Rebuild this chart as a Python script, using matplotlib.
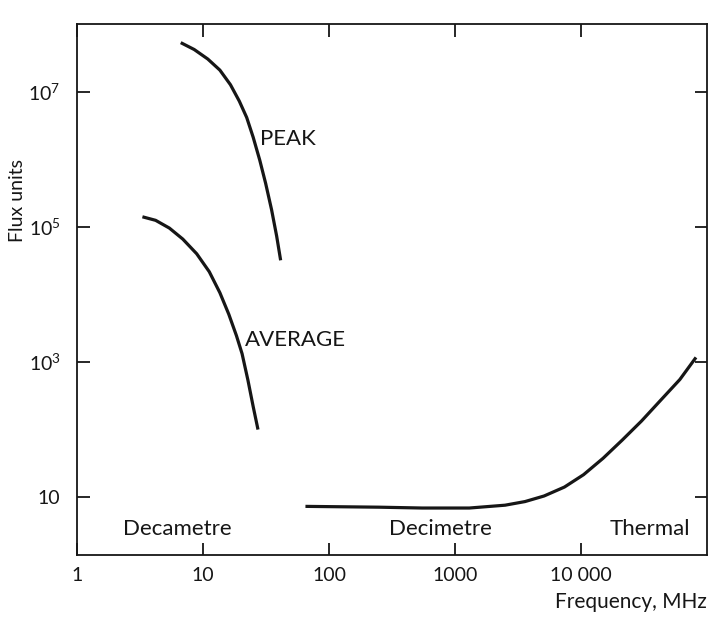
"""Solar radio flux vs frequency (peak / average burst curves and quiet sun)."""
import matplotlib
matplotlib.use("Agg")
import matplotlib.pyplot as plt
from matplotlib.ticker import NullLocator

plt.rcParams["font.family"] = ["Lato", "DejaVu Sans"]
plt.rcParams["mathtext.fontset"] = "custom"
plt.rcParams["mathtext.rm"] = "Lato"

# values (MHz, flux units)
peak_freq = [6.65, 8.5, 10.9, 13.6, 16.5, 19.4, 22.2, 25.0, 28.2, 31.4, 35.0, 38.4, 41.3]
peak_flux = [5.33e7, 4.22e7, 3.05e7, 2.09e7, 1.27e7, 7.26e6, 4.16e6, 2.12e6,
             9.7e5, 4.4e5, 1.79e5, 7.3e4, 3.2e4]

avg_freq = [3.3, 4.2, 5.4, 6.9, 8.9, 11.2, 13.6, 16.0, 18.4, 20.4, 22.7, 25.0, 27.3]
avg_flux = [1.41e5, 1.25e5, 9.6e4, 6.6e4, 4.0e4, 2.17e4, 1.06e4, 5.1e3,
            2.46e3, 1.33e3, 541, 219, 100]

quiet_freq = [65, 250, 550, 1300, 2500, 3600, 5100, 7400, 10500, 15000,
              21300, 30300, 43000, 61000, 82000]
quiet_flux = [7.3, 7.1, 6.9, 6.9, 7.6, 8.6, 10.4, 14.1, 21.5, 37.6,
              70, 134, 272, 550, 1170]

x_ticks = [1, 10, 100, 1000, 10000]
x_tick_labels = ["1", "10", "100", "1000", "10 000"]
y_ticks = [10, 1e3, 1e5, 1e7]
y_tick_labels = ["10", r"$\mathregular{10^3}$", r"$\mathregular{10^5}$", r"$\mathregular{10^7}$"]

band_labels = ["Decametre", "Decimetre", "Thermal"]
band_x = [6.2, 760, 35600]
band_y = 3.4

INK = "#161616"

fig = plt.figure(figsize=(7.14, 6.28), dpi=100)
ax = fig.add_axes([0.108, 0.1155, 0.882, 0.846])

for fx, fy in [(peak_freq, peak_flux), (avg_freq, avg_flux), (quiet_freq, quiet_flux)]:
    ax.plot(fx, fy, color=INK, lw=2.3, solid_capstyle="butt", solid_joinstyle="round")

ax.set_xscale("log")
ax.set_yscale("log")
ax.set_xlim(1, 1e5)
ax.set_ylim(1.37, 1e8)

ax.set_xticks(x_ticks)
ax.set_xticklabels(x_tick_labels)
ax.set_yticks(y_ticks)
ax.set_yticklabels(y_tick_labels)
ax.xaxis.set_minor_locator(NullLocator())
ax.yaxis.set_minor_locator(NullLocator())
ax.tick_params(direction="in", length=9, width=1.3, top=True, right=True,
               labelsize=14, colors=INK)
ax.tick_params(axis="x", pad=8)
ax.tick_params(axis="y", pad=12)
for sp in ax.spines.values():
    sp.set_linewidth(1.3)
    sp.set_color(INK)

ax.text(28.5, 2.0e6, "PEAK", fontsize=16, color=INK, ha="left", va="center")
ax.text(21.5, 2.1e3, "AVERAGE", fontsize=16, color=INK, ha="left", va="center")
for lab, bx in zip(band_labels, band_x):
    ax.text(bx, band_y, lab, fontsize=16, color=INK, ha="center", va="center")

ax.set_xlabel("Frequency, MHz", fontsize=15, color=INK, loc="right")
ax.xaxis.set_label_coords(1.0, -0.068)
ax.xaxis.label.set_va("top")
ax.set_ylabel("Flux units", fontsize=14, color=INK)
ax.yaxis.set_label_coords(-0.094, 0.669)
ax.yaxis.label.set_va("center")

fig.savefig("out.png", dpi=100, facecolor="white")
